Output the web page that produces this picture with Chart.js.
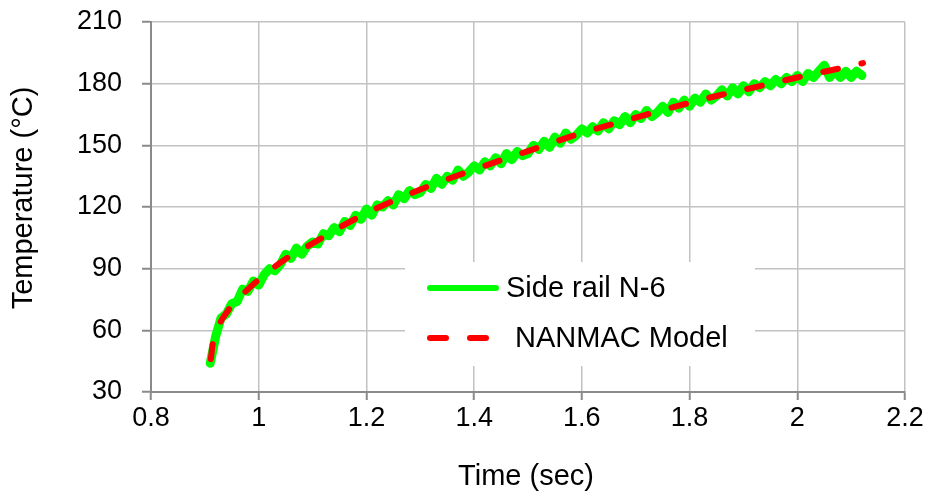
<!DOCTYPE html>
<html>
<head>
<meta charset="utf-8">
<script src="https://cdn.jsdelivr.net/npm/chart.js@4.4.0/dist/chart.umd.min.js"></script>
<style>
  html, body { margin: 0; padding: 0; background: #fff; }
</style>
</head>
<body>
<canvas id="chart" width="930" height="493"></canvas>
<script>
const xTicks = [0.8, 1, 1.2, 1.4, 1.6, 1.8, 2, 2.2];
const yTicks = [30, 60, 90, 120, 150, 180, 210];
const xTitle = 'Time (sec)';
const yTitle = 'Temperature (°C)';

// measured thermocouple trace, sampled every 0.01 s from 0.91 s
const sensorLabel = 'Side rail N-6';
const sensorStart = 0.91, sensorStep = 0.01;
const sensorTemp = [
  44, 57, 66, 68, 73, 74, 80, 79, 84, 82,
  87, 90, 89, 92, 97, 95, 100, 97, 101, 103,
  102, 107, 106, 110, 108, 113, 111, 116, 114, 119,
  116, 121, 120, 123, 121, 126, 124, 128, 126, 127,
  131, 129, 134, 131, 135, 133, 138, 135, 137, 140,
  138, 142, 140, 144, 141, 146, 143, 147, 145, 146,
  150, 148, 152, 149, 154, 151, 156, 153, 155, 158,
  156, 159, 157, 161, 158, 162, 160, 164, 161, 165,
  163, 167, 164, 166, 169, 166, 171, 168, 172, 169,
  173, 171, 175, 172, 174, 177, 174, 178, 175, 179,
  176, 180, 178, 181, 179, 182, 180, 183, 181, 184,
  181, 185, 183, 186, 189, 183, 186, 183, 186, 183,
  186, 184
];

// model curve
const modelLabel = 'NANMAC Model';
const modelTime = [0.911, 0.915, 0.92, 0.93, 0.94, 0.95, 0.97, 1.0, 1.05, 1.1,
  1.15, 1.2, 1.25, 1.3, 1.35, 1.4, 1.45, 1.5, 1.55, 1.6,
  1.65, 1.7, 1.75, 1.8, 1.85, 1.9, 1.95, 2.0, 2.05, 2.1, 2.122];
const modelTemp = [46, 54, 58.5, 64.5, 68.5, 72, 77.5, 84.7, 94.7, 102.3,
  110, 117, 123, 128.5, 133.5, 138.2, 142.8, 147.2, 151.7, 156,
  159.8, 163.5, 167.2, 170.7, 174, 177, 180, 183, 185.8, 188.7, 190];

const FONT = "'Liberation Sans', Arial, sans-serif";

const sensorPoints = sensorTemp.map((t, i) => ({ x: sensorStart + i * sensorStep, y: t }));
const modelPoints = modelTime.map((t, i) => ({ x: t, y: modelTemp[i] }));

// legend box inside the plot + axis titles
const overlay = {
  id: 'overlay',
  afterDraw(chart) {
    const ctx = chart.ctx;
    const ds = chart.data.datasets;
    ctx.save();
    ctx.fillStyle = '#fff';
    ctx.fillRect(405, 262, 350, 104);

    ctx.lineCap = 'round';
    ctx.lineWidth = 6;
    ctx.strokeStyle = ds[0].borderColor;
    ctx.beginPath(); ctx.moveTo(430, 288); ctx.lineTo(496, 288); ctx.stroke();

    ctx.strokeStyle = ds[1].borderColor;
    ctx.setLineDash([16, 24]);
    ctx.beginPath(); ctx.moveTo(430, 338); ctx.lineTo(488, 338); ctx.stroke();
    ctx.setLineDash([]);

    ctx.fillStyle = '#000';
    ctx.font = '29px ' + FONT;
    ctx.textBaseline = 'middle';
    ctx.textAlign = 'left';
    ctx.fillText(ds[0].label, 506, 289);
    ctx.fillText(ds[1].label, 515, 339);

    ctx.textAlign = 'center';
    ctx.fillText(xTitle, 526, 477);
    ctx.translate(24, 198);
    ctx.rotate(-Math.PI / 2);
    ctx.fillText(yTitle, 0, 0);
    ctx.restore();
  }
};

const gridStyle = { color: '#c2c2c2', lineWidth: 1.5, tickColor: '#8a8a8a', tickWidth: 2 };

new Chart(document.getElementById('chart'), {
  type: 'line',
  data: {
    datasets: [
      { label: sensorLabel, data: sensorPoints, borderColor: '#00ff00', borderWidth: 9,
        borderJoinStyle: 'round', borderCapStyle: 'round', pointRadius: 0, tension: 0, order: 1 },
      { label: modelLabel, data: modelPoints, borderColor: '#ff0000', borderWidth: 6,
        borderDash: [15, 24], borderCapStyle: 'round', pointRadius: 0,
        cubicInterpolationMode: 'monotone', order: 0 }
    ]
  },
  options: {
    responsive: false,
    animation: false,
    layout: { padding: { top: 22, right: 25, bottom: 0, left: 0 } },
    plugins: { legend: { display: false }, tooltip: { enabled: false } },
    scales: {
      x: {
        type: 'linear', min: 0.8, max: 2.2,
        afterBuildTicks: s => { s.ticks = xTicks.map(v => ({ value: v })); },
        afterFit: s => { s.height = 101; },
        grid: { ...gridStyle, tickLength: 8 },
        border: { color: '#8a8a8a', width: 2 },
        ticks: { color: '#000', padding: 2, maxRotation: 0, font: { family: FONT, size: 27 }, callback: v => String(v) }
      },
      y: {
        min: 30, max: 210,
        afterBuildTicks: s => { s.ticks = yTicks.map(v => ({ value: v })); },
        afterFit: s => { s.width = 151; s.paddingTop = 0; s.paddingBottom = 0; },
        grid: { ...gridStyle, tickLength: 9 },
        border: { color: '#8a8a8a', width: 2 },
        ticks: { color: '#000', padding: 20, font: { family: FONT, size: 27 }, callback: v => String(v) }
      }
    }
  },
  plugins: [overlay]
});
</script>
</body>
</html>
